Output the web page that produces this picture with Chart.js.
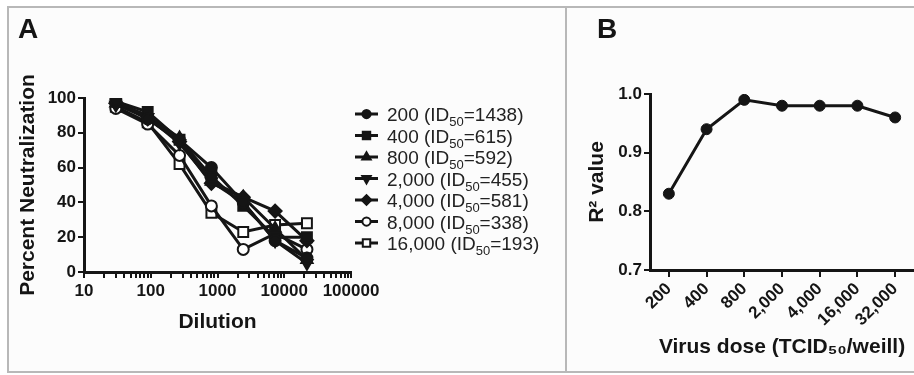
<!DOCTYPE html>
<html><head><meta charset="utf-8">
<script src="https://cdn.jsdelivr.net/npm/chart.js@4.4.1/dist/chart.umd.min.js"></script>
<style>
html,body{margin:0;padding:0;background:#fff;}
#wrap{position:relative;width:914px;height:375px;overflow:hidden;}
#frame{position:absolute;left:7px;top:6px;width:940px;height:367px;border:2px solid #b8b8b8;background:#fcfcfc;box-sizing:border-box;}
#divider{position:absolute;left:565px;top:6px;width:2px;height:367px;background:#b8b8b8;}
#ca{position:absolute;left:0;top:0;}
#cb{position:absolute;left:566px;top:0;}
</style></head>
<body>
<div id="wrap">
  <div id="frame"></div>
  <div id="divider"></div>
  <canvas id="ca" width="566" height="375"></canvas>
  <canvas id="cb" width="348" height="375"></canvas>
</div>
<script>
// ---------------- DATA ----------------
// Panel A
const dilutions = [30, 90, 270, 810, 2430, 7290, 21870];
const legendDoses = ['200', '400', '800', '2,000', '4,000', '8,000', '16,000'];
const id50Values = [1438, 615, 592, 455, 581, 338, 193];
const dose200 = [99, 88, 76, 60, 40, 18, 8];
const dose400 = [98, 92, 76, 55, 38, 20, 20];
const dose800 = [97, 90, 77, 52, 43, 25, 7];
const dose2000 = [96, 89, 74, 52, 40, 18, 5];
const dose4000 = [97, 88, 75, 51, 43, 35, 18];
const dose8000 = [94, 85, 67, 38, 13, 22, 13];
const dose16000 = [95, 86, 62, 34, 23, 27, 28];
const xMajorTicks = [10, 100, 1000, 10000, 100000];
const xTickLabels = ['10', '100', '1000', '10000', '100000'];
const yTicksA = [0, 20, 40, 60, 80, 100];
// Panel B
const virusDoseLabels = ['200', '400', '800', '2,000', '4,000', '16,000', '32,000'];
const r2Values = [0.83, 0.94, 0.99, 0.98, 0.98, 0.98, 0.96];

// ---------------- STYLE ----------------
const FONT = "'Liberation Sans', Arial, sans-serif";
const INK = '#151515';
const seriesA = [dose200, dose400, dose800, dose2000, dose4000, dose8000, dose16000];
const markers = [
  {style: 'circle', rot: 0, r: 5.5, fill: true},
  {style: 'rect', rot: 0, r: 7, fill: true},
  {style: 'triangle', rot: 0, r: 6.5, fill: true},
  {style: 'triangle', rot: 180, r: 6.5, fill: true},
  {style: 'rectRot', rot: 0, r: 6.5, fill: true},
  {style: 'circle', rot: 0, r: 5.5, fill: false},
  {style: 'rect', rot: 0, r: 7, fill: false}
];

// minor + major tick positions for log axis
const xAllTicks = [];
for (let k = 0; k < xMajorTicks.length - 1; k++) {
  for (let m = 1; m < 10; m++) xAllTicks.push(xMajorTicks[k] * m);
}
xAllTicks.push(xMajorTicks[xMajorTicks.length - 1]);

const panelLabel = {
  id: 'panelLabel',
  afterDraw(chart, args, opts) {
    const ctx = chart.ctx;
    ctx.save();
    ctx.fillStyle = INK;
    ctx.font = `bold 28px ${FONT}`;
    ctx.textBaseline = 'alphabetic';
    ctx.fillText(opts.text, opts.x, opts.y);
    ctx.restore();
  }
};

const subLegend = {
  id: 'subLegend',
  afterDraw(chart) {
    const ctx = chart.ctx;
    const top = 114, step = 21.5;
    chart.data.datasets.forEach((ds, i) => {
      const y = top + i * step;
      const mk = markers[i];
      ctx.save();
      ctx.strokeStyle = INK; ctx.lineWidth = 3;
      ctx.beginPath(); ctx.moveTo(355, y); ctx.lineTo(378, y); ctx.stroke();
      ctx.fillStyle = mk.fill ? INK : '#fff';
      ctx.strokeStyle = INK; ctx.lineWidth = 2;
      Chart.helpers.drawPoint(ctx, {pointStyle: mk.style, rotation: mk.rot, radius: mk.r * 0.75, borderWidth: 2}, 366.5, y);
      ctx.fillStyle = '#222';
      ctx.textBaseline = 'alphabetic';
      let x = 387;
      const base = y + 7;
      const pre = legendDoses[i] + ' (ID';
      ctx.font = `19px ${FONT}`;
      ctx.fillText(pre, x, base); x += ctx.measureText(pre).width;
      ctx.font = `13px ${FONT}`;
      ctx.fillText('50', x, base + 5); x += ctx.measureText('50').width;
      ctx.font = `19px ${FONT}`;
      ctx.fillText('=' + id50Values[i] + ')', x, base);
      ctx.restore();
    });
  }
};

Chart.defaults.font.family = FONT;
Chart.defaults.color = INK;

// ---------------- PANEL A ----------------
new Chart(document.getElementById('ca'), {
  type: 'line',
  data: {
    datasets: seriesA.map((vals, i) => ({
      label: legendDoses[i] + ' (ID50=' + id50Values[i] + ')',
      data: dilutions.map((d, j) => ({x: d, y: vals[j]})),
      borderColor: INK,
      borderWidth: 3,
      tension: 0,
      pointStyle: markers[i].style,
      pointRotation: markers[i].rot,
      pointRadius: markers[i].r,
      pointBorderWidth: 2,
      pointBorderColor: INK,
      pointBackgroundColor: markers[i].fill ? INK : '#fff'
    }))
  },
  options: {
    responsive: false,
    animation: false,
    devicePixelRatio: 1,
    layout: {autoPadding: false, padding: {left: 0, top: 98, right: 215, bottom: 0}},
    plugins: {
      legend: {display: false},
      tooltip: {enabled: false},
      panelLabel: {text: 'A', x: 18, y: 38}
    },
    scales: {
      x: {
        type: 'logarithmic', min: 10, max: 100000,
        afterBuildTicks: s => { s.ticks = xAllTicks.map(v => ({value: v})); },
        afterFit: s => { s.height = 103; },
        border: {color: INK, width: 3},
        grid: {drawOnChartArea: false, color: INK, lineWidth: 2, tickLength: 6},
        ticks: {
          autoSkip: false, maxRotation: 0, minRotation: 0, padding: 3, color: INK,
          font: {size: 17, weight: 'bold'},
          callback: v => { const i = xMajorTicks.indexOf(v); return i >= 0 ? xTickLabels[i] : ''; }
        },
        title: {display: true, text: 'Dilution', color: INK, font: {size: 21, weight: 'bold', lineHeight: 1.2}, padding: {top: 0, bottom: 40}}
      },
      y: {
        min: 0, max: 100,
        afterBuildTicks: s => { s.ticks = yTicksA.map(v => ({value: v})); },
        afterFit: s => { s.width = 84; },
        border: {color: INK, width: 3},
        grid: {drawOnChartArea: false, color: INK, lineWidth: 2, tickLength: 6},
        ticks: {padding: 2, color: INK, font: {size: 17, weight: 'bold'}},
        title: {display: true, text: 'Percent Neutralization', color: INK, font: {size: 21, weight: 'bold', lineHeight: 1.2}, padding: {top: 16, bottom: 0}}
      }
    }
  },
  plugins: [panelLabel, subLegend]
});

// ---------------- PANEL B ----------------
new Chart(document.getElementById('cb'), {
  type: 'line',
  data: {
    labels: virusDoseLabels,
    datasets: [{
      label: 'R2',
      data: r2Values,
      borderColor: INK,
      borderWidth: 3,
      tension: 0,
      pointStyle: 'circle',
      pointRadius: 5.5,
      pointBorderWidth: 1,
      pointBorderColor: INK,
      pointBackgroundColor: INK
    }]
  },
  options: {
    responsive: false,
    animation: false,
    devicePixelRatio: 1,
    layout: {autoPadding: false, padding: {left: 0, top: 94, right: 0, bottom: 0}},
    plugins: {
      legend: {display: false},
      tooltip: {enabled: false},
      panelLabel: {text: 'B', x: 31, y: 38}
    },
    scales: {
      x: {
        type: 'category', offset: true,
        afterFit: s => { s.height = 105; },
        border: {color: INK, width: 3},
        grid: {drawOnChartArea: false, offset: false, color: INK, lineWidth: 2, tickLength: 7},
        ticks: {autoSkip: false, minRotation: 45, maxRotation: 45, padding: 2, color: INK, font: {size: 17, weight: 'bold'}},
        title: {display: true, text: 'Virus dose (TCID₅₀/weill)', color: INK, font: {size: 21, weight: 'bold', lineHeight: 1.2}, padding: {top: 0, bottom: 15}}
      },
      y: {
        min: 0.7, max: 1.0,
        afterFit: s => { s.width = 84; },
        border: {color: INK, width: 3},
        grid: {drawOnChartArea: false, color: INK, lineWidth: 2, tickLength: 6},
        ticks: {stepSize: 0.1, padding: 2, color: INK, font: {size: 17, weight: 'bold'}, callback: v => Number(v).toFixed(1)},
        title: {display: true, text: 'R² value', color: INK, font: {size: 21, weight: 'bold', lineHeight: 1.2}, padding: {top: 19, bottom: 0}}
      }
    }
  },
  plugins: [panelLabel]
});
</script>
</body></html>
